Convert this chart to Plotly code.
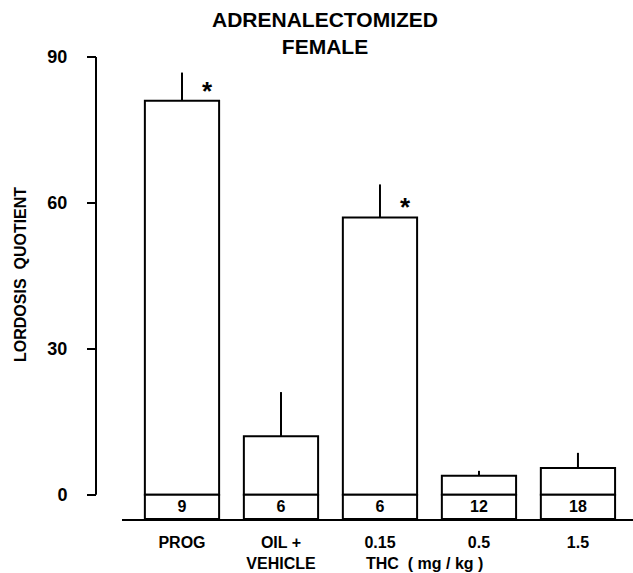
import plotly.graph_objects as go

# ---- data ----
groups = ["PROG", "OIL +<br>VEHICLE", "0.15", "0.5", "1.5"]
lq_mean = [81.0, 12.0, 57.0, 3.9, 5.5]
lq_sem = [5.8, 9.1, 6.8, 1.0, 3.1]
n_animals = ["9", "6", "6", "12", "18"]
significant = [True, False, True, False, False]
y_ticks = [0, 30, 60, 90]

AXIS_FLOOR = -5   # bottom of the value axis (room for the n boxes)
W, H = 633, 573
FONT = "Liberation Sans"

fig = go.Figure()

# main bars (0 -> mean) with upward-only SEM
fig.add_trace(go.Bar(
    x=groups, y=lq_mean, width=0.75,
    marker=dict(color="white", line=dict(color="black", width=2)),
    error_y=dict(type="data", symmetric=False, array=lq_sem,
                 arrayminus=[0] * len(lq_sem), color="black",
                 thickness=2, width=0),
    hoverinfo="skip", showlegend=False,
))

# n boxes below zero
fig.add_trace(go.Bar(
    x=groups, y=[0 - AXIS_FLOOR] * len(groups), base=AXIS_FLOOR, width=0.75,
    marker=dict(color="white", line=dict(color="black", width=2)),
    text=n_animals, textposition="inside", insidetextanchor="middle",
    constraintext="none",
    textfont=dict(family=FONT, size=16, color="black", weight="bold"),
    hoverinfo="skip", showlegend=False,
))

# significance asterisks
for i, (m, s) in enumerate(zip(lq_mean, significant)):
    if s:
        fig.add_annotation(x=i, y=m, xref="x", yref="y", text="*",
                           showarrow=False, xshift=26, yanchor="bottom",
                           yshift=-7,
                           font=dict(family=FONT, size=26, color="black",
                                     weight="bold"))

# THC dose label under the three THC bars
fig.add_annotation(x=2.45, y=(519 - 563) / 462, xref="x", yref="paper",
                   text="THC  ( mg / kg )", showarrow=False,
                   yanchor="middle",
                   font=dict(family=FONT, size=16, color="black", weight="bold"))

# y-axis title
fig.add_annotation(x=20 / W, y=(519 - 275) / 462, xref="paper", yref="paper",
                   xanchor="center", yanchor="middle",
                   text="LORDOSIS  QUOTIENT", textangle=-90, showarrow=False,
                   font=dict(family=FONT, size=16, color="black", weight="bold"))

# y-axis line from 0 to top tick only
fig.add_shape(type="line", xref="paper", yref="y",
              x0=96 / W, x1=96 / W, y0=y_ticks[0], y1=y_ticks[-1],
              line=dict(color="black", width=2))

fig.update_layout(
    width=W, height=H,
    margin=dict(l=0, r=0, t=57, b=54),
    paper_bgcolor="white", plot_bgcolor="white",
    barmode="overlay",
    uniformtext=dict(minsize=16, mode="show"),
    title=dict(text="ADRENALECTOMIZED<br>FEMALE", x=325 / W, xanchor="center",
               y=1 - 27 / H, yanchor="top",
               font=dict(family=FONT, size=21, color="black", weight="bold")),
    xaxis=dict(domain=[122 / W, 1], range=[-0.606, 4.556],
               showline=True, linecolor="black", linewidth=2,
               ticks="", showgrid=False, zeroline=False,
               tickfont=dict(family=FONT, size=16, color="black", weight="bold"),
               ticklabelstandoff=8),
    yaxis=dict(anchor="free", position=96 / W, range=[AXIS_FLOOR, 90],
               tickvals=y_ticks, ticks="outside", ticklen=9, tickwidth=2,
               tickcolor="black", showline=False, showgrid=False,
               zeroline=False, ticklabelstandoff=16,
               tickfont=dict(family=FONT, size=18, color="black", weight="bold")),
)

fig.write_html("out.html", config={"displayModeBar": False},
               post_script="document.body.style.margin='0';")
